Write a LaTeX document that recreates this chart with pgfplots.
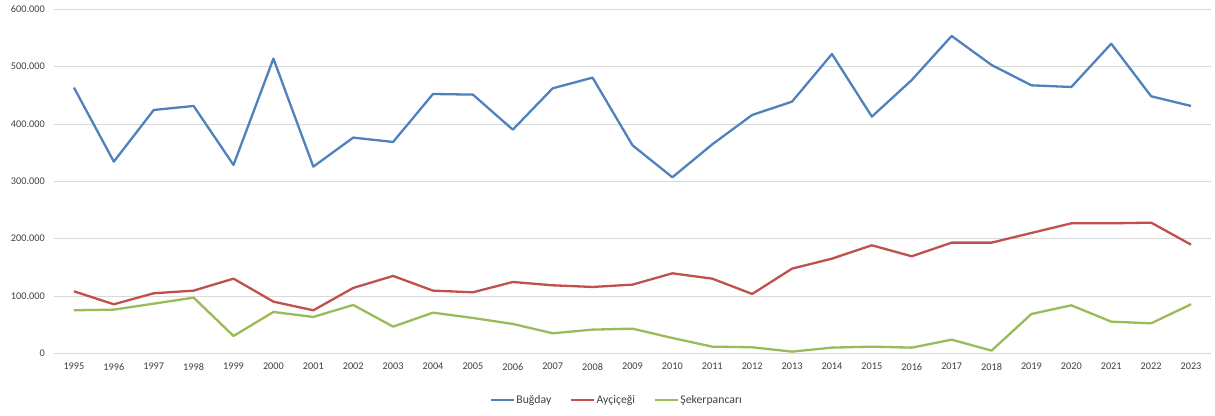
\documentclass[border=0pt]{standalone}
\usepackage{fontspec}
\setmainfont{Carlito}
\usepackage{pgfplots}
\usepackage{pgfplotstable}
\pgfplotsset{compat=1.18}
\definecolor{cblue}{HTML}{4F81BD}
\definecolor{cred}{HTML}{C0504D}
\definecolor{cgreen}{HTML}{9BBB59}
\definecolor{cgrid}{HTML}{D9D9D9}
\definecolor{ctext}{HTML}{404040}
\pgfplotstableread{
year b a s
1995 463400 108100 75000
1996 334300 85500 76200
1997 424400 104700 86600
1998 431400 109300 97100
1999 328500 130200 30200
2000 514000 90100 72100
2001 325600 75000 63400
2002 376200 114000 84300
2003 368600 134900 46500
2004 452300 109300 70900
2005 451200 106400 61600
2006 390100 124400 51200
2007 462200 118600 34900
2008 480800 115700 41300
2009 362800 119800 43000
2010 307000 139500 26700
2011 364500 130200 11600
2012 415700 103500 10500
2013 439000 147700 2900
2014 522000 165100 9900
2015 412800 188400 11600
2016 476700 169200 9900
2017 553500 193000 23800
2018 502900 193000 4700
2019 467400 209900 68600
2020 464500 226700 83700
2021 540000 226700 55200
2022 448300 227900 52300
2023 431400 189500 85500
}\data
\begin{document}
\begin{tikzpicture}
\useasboundingbox (-54bp,-62.7bp) rectangle (1161bp,353.3bp);
\begin{axis}[
  at={(0,0)}, anchor=south west,
  scale only axis, width=1157bp, height=344bp,
  xmin=1994.5, xmax=2023.5, ymin=0, ymax=600000,
  xtick=data, ytick={0,100000,200000,300000,400000,500000,600000},
  scaled y ticks=false, scaled x ticks=false,
  axis line style={draw=none},
  major tick length=0pt,
  ymajorgrids, grid style={cgrid, line width=0.8bp},
  x tick label style={/pgf/number format/fixed, /pgf/number format/precision=0, /pgf/number format/1000 sep={}, /pgf/number format/assume math mode=true, font=\fontsize{10.3}{12}\selectfont, text=ctext, anchor=north, yshift=-6.3bp},
  y tick label style={/pgf/number format/fixed, /pgf/number format/precision=0, /pgf/number format/1000 sep={.}, /pgf/number format/assume math mode=true, font=\fontsize{10.3}{12}\selectfont, text=ctext, anchor=east, xshift=-5.7bp},
  legend columns=3,
  legend style={at={(0.5,0)}, anchor=center, yshift=-46.7bp, xshift=-16bp, draw=none, fill=none,
    font=\fontsize{11.8}{13}\selectfont, text=ctext,
    /tikz/every even column/.append style={column sep=17bp},
    nodes={inner sep=1.5bp}},
  legend image code/.code={\draw[#1] (0bp,0bp) -- (23bp,0bp);},
  every axis plot/.append style={line width=2.3bp, line join=round},
]
\addplot[cblue] table[x=year, y=b] {\data};
\addlegendentry{Buğday}
\addplot[cred] table[x=year, y=a] {\data};
\addlegendentry{Ayçiçeği}
\addplot[cgreen] table[x=year, y=s] {\data};
\addlegendentry{Şekerpancarı}
\end{axis}
\end{tikzpicture}
\end{document}
